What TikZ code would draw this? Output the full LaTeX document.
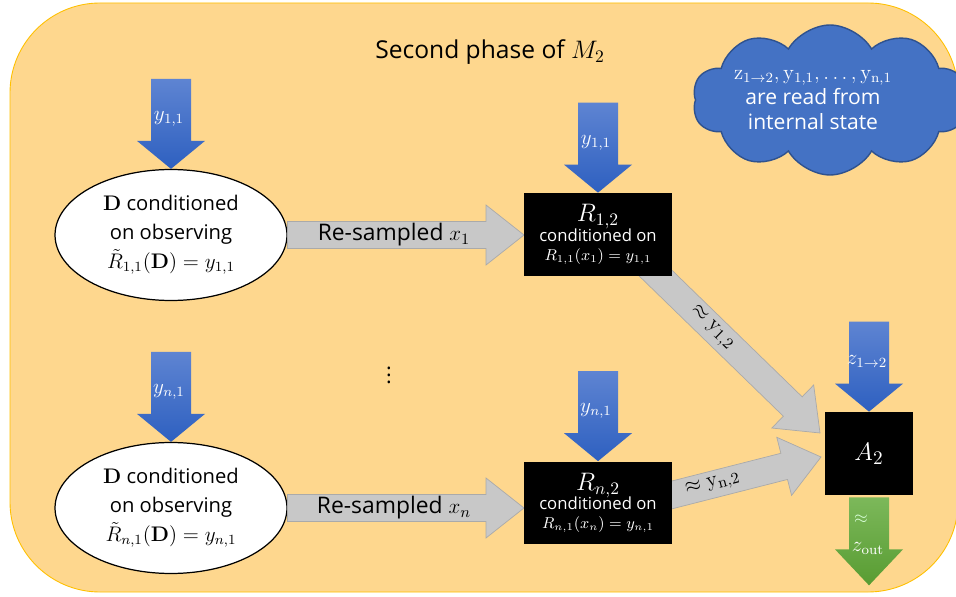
\documentclass[tikz,border=0pt]{standalone}
\usepackage[no-math]{fontspec}
\setmainfont{Open Sans}
\usetikzlibrary{calc,shapes.geometric,shapes.symbols}
\definecolor{bgfill}{RGB}{254,215,142}
\definecolor{bgline}{RGB}{255,192,0}
\definecolor{feedtop}{RGB}{94,132,210}
\definecolor{feedbot}{RGB}{46,96,192}
\definecolor{cloudfill}{RGB}{68,114,196}
\definecolor{cloudline}{RGB}{47,82,143}
\definecolor{pipefill}{RGB}{200,200,200}
\definecolor{pipeline}{RGB}{170,170,170}
\definecolor{outtop}{RGB}{124,184,90}
\definecolor{outbot}{RGB}{88,156,50}

% blue input arrow ending on top of a node
\newcommand{\feed}[3]{%
  \shade[top color=feedtop,bottom color=feedbot]
    (#1.north) -- ++(-34,-28) -- ++(14,0) -- ++(0,-62) -- ++(40,0)
    -- ++(0,62) -- ++(14,0) -- cycle;
  \node[feedlbl] (#2) at ($(#1.north)+(-2,-50)$) {#3};
}
% grey block arrow from #1 to #2
\newcommand{\pipe}[2]{%
  \coordinate (#1h) at ($(#2)!0.76cm!(#1)$);
  \filldraw[fill=pipefill,draw=pipeline,line width=0.4pt]
    ($(#1)!0.27cm!90:(#2)$) -- ($(#1h)!0.27cm!90:(#2)$)
    -- ($(#1h)!0.6cm!90:(#2)$) -- (#2)
    -- ($(#1h)!0.6cm!-90:(#2)$) -- ($(#1h)!0.27cm!-90:(#2)$)
    -- ($(#1)!0.27cm!-90:(#2)$) -- cycle;
}

\begin{document}
\begin{tikzpicture}[x=0.02cm,y=-0.02cm,
    oval/.style={ellipse,draw,line width=0.7pt,fill=white,minimum width=4.64cm,
      minimum height=2.62cm,inner sep=0pt,align=center,
      font=\fontsize{11.5}{16.5}\selectfont},
    blk/.style={fill=black,text=white,inner sep=0pt,align=center,
      minimum height=1.66cm},
    feedlbl/.style={text=white,font=\fontsize{11.5}{13}\selectfont,inner sep=1pt},
    pipelbl/.style={font=\fontsize{13}{15}\selectfont,inner sep=1pt}]
  \useasboundingbox (0,0) rectangle (956,597);
  \begin{scope}
    \clip (0,0) rectangle (956,597);
    \filldraw[fill=bgfill,draw=bgline,line width=0.5pt,rounded corners=1.8cm]
      (10,3) rectangle (958,592);
  \end{scope}

  \node[font=\fontsize{14}{16}\selectfont] (title) at (490,52) {Second phase of $M_2$};

  % sources
  \node[oval] (e1) at (171,235) {$\mathbf{D}$ conditioned\\on observing\\
    $\tilde{R}_{1,1}(\mathbf{D})=y_{1,1}$};
  \node[oval] (e2) at (171,508) {$\mathbf{D}$ conditioned\\on observing\\
    $\tilde{R}_{n,1}(\mathbf{D})=y_{n,1}$};
  \node[font=\fontsize{12}{14}\selectfont,inner sep=0pt] (dots) at (389,370) {$\vdots$};

  % places of the boxes
  \coordinate (r12c) at (598,234.5);
  \coordinate (rn2c) at (598,503);
  \coordinate (a2c) at (869,453.5);

  % grey arrows (under the boxes)
  \coordinate (s1) at (e1.east);
  \coordinate (t1) at (524,235);
  \coordinate (sn) at (e2.east);
  \coordinate (tn) at (524,508);
  \coordinate (d1) at ($(r12c)+(42,23.5)$);
  \coordinate (u1) at ($(a2c)+(-49,-20.5)$);
  \coordinate (dn) at ($(rn2c)+(54,-3)$);
  \coordinate (un) at ($(a2c)+(-48,3.5)$);
  \pipe{s1}{t1}
  \pipe{sn}{tn}
  \pipe{d1}{u1}
  \pipe{dn}{un}

  % boxes
  \node[blk,minimum width=2.96cm] (r12) at (r12c) {%
    {\fontsize{14}{16}\selectfont $R_{1,2}$}\\[-1pt]
    {\fontsize{9.5}{11}\selectfont conditioned on}\\[-1pt]
    {\fontsize{9}{11}\selectfont $R_{1,1}(x_1)=y_{1,1}$}};
  \node[blk,minimum width=2.96cm] (rn2) at (rn2c) {%
    {\fontsize{14}{16}\selectfont $R_{n,2}$}\\[-1pt]
    {\fontsize{9.5}{11}\selectfont conditioned on}\\[-1pt]
    {\fontsize{9}{11}\selectfont $R_{n,1}(x_n)=y_{n,1}$}};
  \node[blk,minimum width=1.76cm,font=\fontsize{15}{17}\selectfont] (a2) at (a2c) {$A_2$};

  % labels on the grey arrows
  \path (s1) -- (t1) node[pipelbl,pos=.45] (lbl1) {Re-sampled $x_1$};
  \path (sn) -- (tn) node[pipelbl,pos=.45] (lbln) {Re-sampled $x_n$};
  \path (d1) -- (u1) node[pipelbl,pos=.4,sloped] (lbl12) {$\approx\mathrm{y}_{1,2}$};
  \path (dn) -- (un) node[pipelbl,pos=.36,sloped] (lbln2) {$\approx\mathrm{y}_{\mathrm{n},2}$};

  % inputs
  \feed{e1}{in1}{$y_{1,1}$}
  \feed{e2}{inn}{$y_{n,1}$}
  \feed{r12}{in12}{$y_{1,1}$}
  \feed{rn2}{inn2}{$y_{n,1}$}
  \feed{a2}{inz}{$z_{1\to2}$}

  % output
  \shade[top color=outtop,bottom color=outbot]
    ($(a2.south)+(-20,2)$) -- ++(0,52) -- ++(-14,0) -- ++(34,36)
    -- ++(34,-36) -- ++(-14,0) -- ++(0,-52) -- cycle;
  \node[text=white!85!green,inner sep=0pt] (appr) at ($(a2.south)+(-8,24)$) {$\approx$};
  \node[text=white,inner sep=0pt,font=\fontsize{12}{14}\selectfont] (zout) at ($(a2.south)+(-1,53)$) {$z_{\mathrm{out}}$};

  % state
  \node[cloud,cloud puffs=10,cloud puff arc=120,cloud ignores aspect,fill=cloudfill,
    draw=cloudline,line width=0.8pt,minimum width=5.5cm,minimum height=3.0cm] (mem) at (830,100) {};
  \node[text=white,align=center,font=\fontsize{12}{14}\selectfont] (memtxt) at (813,100)
    {$\mathrm{z}_{1\to2},\mathrm{y}_{1,1},\dots,\mathrm{y}_{\mathrm{n},1}$\\are read from\\internal state};
\end{tikzpicture}
\end{document}
